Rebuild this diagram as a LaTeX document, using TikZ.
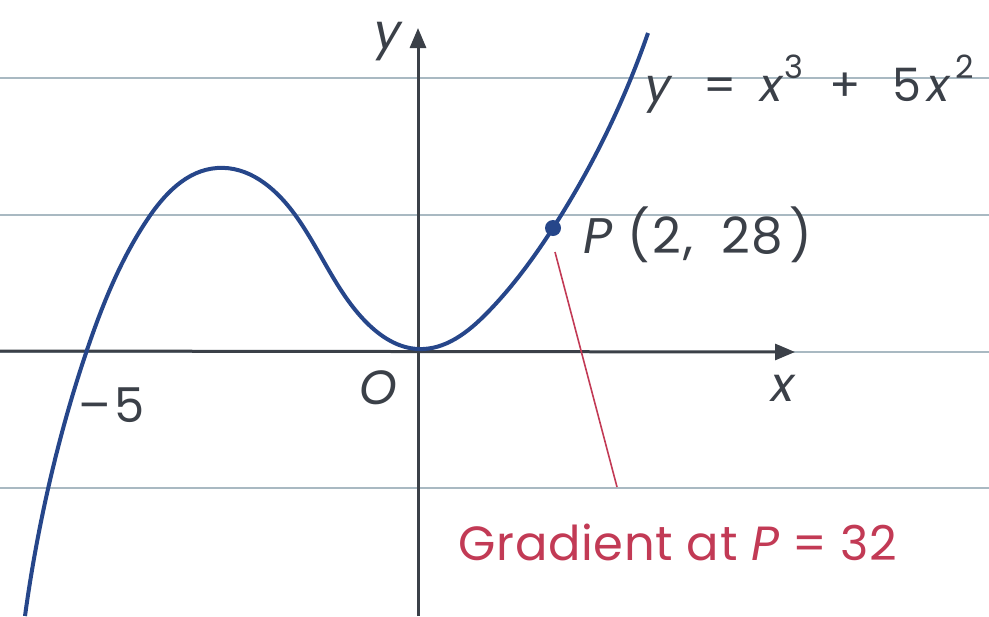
\documentclass[tikz,border=0pt]{standalone}
\usepackage{fontspec}
\setmainfont{Poppins}
\usetikzlibrary{arrows.meta,hobby}
\definecolor{ruleline}{HTML}{A9B9C2}
\definecolor{curveblue}{HTML}{26468A}
\definecolor{inkgrey}{HTML}{3B4048}
\definecolor{notered}{HTML}{C23A55}
\newcommand{\supnum}[1]{\raisebox{0.5em}{\fontsize{16}{18}\selectfont #1}}

\begin{document}
\begin{tikzpicture}[x=0.5pt,y=-0.5pt,
  lbl/.style={text=inkgrey,font=\fontsize{24}{28}\selectfont,inner sep=0pt},
  ruled/.style={ruleline,line width=1pt},
  axis/.style={inkgrey,line width=1.5pt,-{Triangle[length=10pt,width=8pt]}}]
\useasboundingbox (0,0) rectangle (989,616);
% lined paper
\foreach \ry in {78,215,352,488} \draw[ruled] (0,\ry) -- (989,\ry);
% axes
\coordinate (xs) at (0,351);
\coordinate (xe) at (795,352);
\coordinate (ys) at (418,616);
\coordinate (ye) at (418,28);
\draw[axis] (xs) -- (xe);
\draw[axis] (ys) -- (ye);
\node[lbl] (ylab) at (388,42) {\itshape y};
\node[lbl] (xlab) at (783,388) {\itshape x};
\node[lbl] (olab) at (378,388) {\itshape O};
\node[lbl,anchor=west] (mfive) at (78,405) {–\hspace{2pt}5};
% the cubic
\draw[curveblue,line width=2pt,use Hobby shortcut]
  (25,616) .. (48,489) .. (87,350) .. (147,220) .. (217,168) .. (293,212)
  .. (367,323) .. (418,349) .. (487,313) .. (553,228) .. (648,33);
\node[circle,fill=curveblue,inner sep=0pt,minimum size=8pt] (P) at (553,228) {};
\node[lbl,anchor=west,font=\fontsize{25}{29}\selectfont] (Plab) at (583,235)
  {\addfontfeature{LetterSpace=4}\itshape P\upshape\ (2,\hspace{14pt}28\hspace{3pt})};
\node[lbl,anchor=west,font=\fontsize{23}{27}\selectfont] (curvelab) at (645,84)
  {\itshape y\upshape\hspace{16pt}=\hspace{12pt}\itshape x\upshape\hspace{1pt}\supnum{3}\hspace{13pt}+\hspace{16pt}5\hspace{3pt}\itshape x\upshape\hspace{3pt}\supnum{2}};
% gradient note
\coordinate (ptrA) at (555,252);
\coordinate (ptrB) at (617,487);
\draw[notered,line width=0.8pt] (ptrA) -- (ptrB);
\node[lbl,text=notered,anchor=west] (grad) at (458,542)
  {\addfontfeature{LetterSpace=1.5}Gradient at \itshape P\upshape\ = 32};
\end{tikzpicture}
\end{document}
